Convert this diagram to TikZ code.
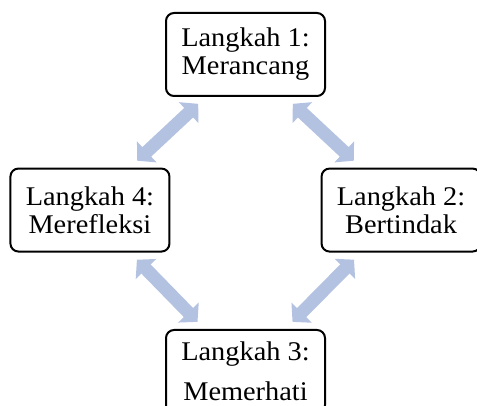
\documentclass[tikz,border=0pt]{standalone}
\usepackage{fontspec}
\setmainfont{Liberation Serif}[FakeStretch=1.05]
\usetikzlibrary{arrows.meta}
\definecolor{birumuda}{RGB}{180,194,226}

\begin{document}
\begin{tikzpicture}[x=1pt,y=1pt,node distance=220pt,font=\fontsize{27}{28}\selectfont]
  \tikzstyle{langkah}=[draw,line width=2pt,rounded corners=8pt,minimum width=159pt,
                       minimum height=83pt,align=center,inner sep=2pt]
  \tikzstyle{panah}=[draw=birumuda,line width=13pt,
                     {Triangle[length=13pt,width=28pt]}-{Triangle[length=13pt,width=28pt]},
                     shorten >=10pt,shorten <=10pt]
  \useasboundingbox (0,0) rectangle (477,406);
  \clip (0,0) rectangle (477,406);

  \node[langkah] (L1) at (245.5,351.5) {Langkah 1:\\Merancang};
  \node[langkah,below right of=L1] (L2) {Langkah 2:\\Bertindak};
  \node[langkah,below left of=L1]  (L4) {Langkah 4:\\Merefleksi};
  \node[langkah,node distance=317pt,below of=L1] (L3) {Langkah 3:\\[12pt]Memerhati};

  \path[panah] ([xshift=-40pt]L1.south) -- ([xshift=40pt]L4.north);
  \path[panah] ([xshift=40pt]L1.south)  -- ([xshift=-40pt]L2.north);
  \path[panah] ([xshift=40pt]L4.south)  -- ([xshift=-41pt]L3.north);
  \path[panah] ([xshift=-40pt]L2.south) -- ([xshift=40pt]L3.north);
\end{tikzpicture}
\end{document}
